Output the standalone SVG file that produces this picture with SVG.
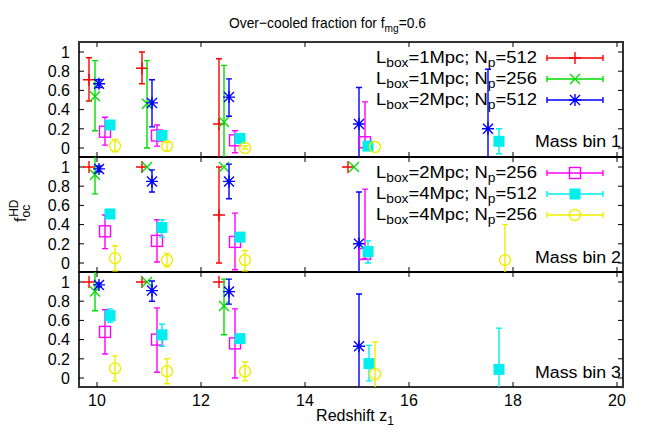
<svg xmlns="http://www.w3.org/2000/svg" width="654" height="436" viewBox="0 0 654 436">
<style>
text{font-family:"Liberation Sans",Arial,sans-serif;font-size:16px;fill:#000}
.sub{font-size:12px}
.ti{font-size:15px}
.ti .sub{font-size:11px}
.ax{fill:none;stroke:#000;stroke-width:1}
.fr{fill:none;stroke:#333;stroke-width:2}
.r{stroke:#f00;fill:none;stroke-width:1.4}
.g{stroke:#0d0;fill:none;stroke-width:1.4}
.b{stroke:#00f;fill:none;stroke-width:1.4}
.m{stroke:#f0f;fill:none;stroke-width:1.4}
.c{stroke:#0ee;fill:none;stroke-width:1.4}
.y{stroke:#ee0;fill:none;stroke-width:1.4}
.tl{text-anchor:end}
.tc{text-anchor:middle}
</style>
<defs>
<path id="pl" d="M-6,0H6M0,-6V6"/>
<path id="cr" d="M-5,-5L5,5M-5,5L5,-5"/>
<path id="st" d="M-6,0H6M0,-6V6M-5,-5L5,5M-5,5L5,-5"/>
<rect id="sq" x="-5.5" y="-5.5" width="11" height="11"/>
<rect id="fs" x="-5.5" y="-5.5" width="11" height="11" fill="#0ee" stroke="none"/>
<circle id="ci" r="5.5"/>
</defs>
<text x="229" y="28" class="ti" textLength="197" lengthAdjust="spacingAndGlyphs">Over−cooled fraction for f<tspan class="sub" dy="4">mg</tspan><tspan dy="-4">=0.6</tspan></text>
<g id="axes">
<rect x="79" y="42" width="544" height="345" class="fr"/>
<path d="M79,157H623M79,272H623" stroke="#000" stroke-width="2"/>
<path class="ax" d="M79,148h5M79,128.8h5M79,109.6h5M79,90.4h5M79,71.2h5M79,52h5M79,263h5M79,243.8h5M79,224.6h5M79,205.4h5M79,186.2h5M79,167h5M79,378h5M79,358.8h5M79,339.6h5M79,320.4h5M79,301.2h5M79,282h5M623,148h-5M623,128.8h-5M623,109.6h-5M623,90.4h-5M623,71.2h-5M623,52h-5M623,263h-5M623,243.8h-5M623,224.6h-5M623,205.4h-5M623,186.2h-5M623,167h-5M623,378h-5M623,358.8h-5M623,339.6h-5M623,320.4h-5M623,301.2h-5M623,282h-5M97,387v-5M201,387v-5M305,387v-5M409,387v-5M513,387v-5M617,387v-5M97,42v5M201,42v5M305,42v5M409,42v5M513,42v5M617,42v5M97,152v10M201,152v10M305,152v10M409,152v10M513,152v10M617,152v10M97,267v10M201,267v10M305,267v10M409,267v10M513,267v10M617,267v10"/>
<g class="tl">
<text x="70" y="154">0</text><text x="70" y="135">0.2</text><text x="70" y="115">0.4</text><text x="70" y="96">0.6</text><text x="70" y="77">0.8</text><text x="70" y="58">1</text>
<text x="70" y="269">0</text><text x="70" y="250">0.2</text><text x="70" y="230">0.4</text><text x="70" y="211">0.6</text><text x="70" y="192">0.8</text><text x="70" y="173">1</text>
<text x="70" y="384">0</text><text x="70" y="365">0.2</text><text x="70" y="345">0.4</text><text x="70" y="326">0.6</text><text x="70" y="307">0.8</text><text x="70" y="288">1</text>
</g>
<g class="tc">
<text x="97" y="406">10</text><text x="201" y="406">12</text><text x="305" y="406">14</text><text x="409" y="406">16</text><text x="513" y="406">18</text><text x="617" y="406">20</text>
</g>
<text x="355" y="421" class="tc" font-size="15">Redshift z<tspan class="sub" dy="4">1</tspan></text>
<text transform="translate(26,222) rotate(-90)" font-size="15">f<tspan class="sub" dy="4" font-size="10">oc</tspan><tspan class="sub" dy="-12" dx="-12" font-size="10">HD</tspan></text>
<text x="621" y="147" class="tl" textLength="86" lengthAdjust="spacingAndGlyphs">Mass bin 1</text>
<text x="621" y="263" class="tl" textLength="86" lengthAdjust="spacingAndGlyphs">Mass bin 2</text>
<text x="621" y="378" class="tl" textLength="86" lengthAdjust="spacingAndGlyphs">Mass bin 3</text>
</g>
<g id="legend">
<text x="376" y="63" textLength="161" lengthAdjust="spacingAndGlyphs">L<tspan class="sub" dy="4">box</tspan><tspan dy="-4">=1Mpc; N</tspan><tspan class="sub" dy="4">p</tspan><tspan dy="-4">=512</tspan></text>
<text x="376" y="84" textLength="161" lengthAdjust="spacingAndGlyphs">L<tspan class="sub" dy="4">box</tspan><tspan dy="-4">=1Mpc; N</tspan><tspan class="sub" dy="4">p</tspan><tspan dy="-4">=256</tspan></text>
<text x="376" y="105" textLength="161" lengthAdjust="spacingAndGlyphs">L<tspan class="sub" dy="4">box</tspan><tspan dy="-4">=2Mpc; N</tspan><tspan class="sub" dy="4">p</tspan><tspan dy="-4">=512</tspan></text>
<text x="376" y="178" textLength="161" lengthAdjust="spacingAndGlyphs">L<tspan class="sub" dy="4">box</tspan><tspan dy="-4">=2Mpc; N</tspan><tspan class="sub" dy="4">p</tspan><tspan dy="-4">=256</tspan></text>
<text x="376" y="199" textLength="161" lengthAdjust="spacingAndGlyphs">L<tspan class="sub" dy="4">box</tspan><tspan dy="-4">=4Mpc; N</tspan><tspan class="sub" dy="4">p</tspan><tspan dy="-4">=512</tspan></text>
<text x="376" y="220" textLength="161" lengthAdjust="spacingAndGlyphs">L<tspan class="sub" dy="4">box</tspan><tspan dy="-4">=4Mpc; N</tspan><tspan class="sub" dy="4">p</tspan><tspan dy="-4">=256</tspan></text>
<path class="r" d="M547,58H603M547,55v6M603,55v6"/><use href="#pl" x="575" y="58" class="r"/>
<path class="g" d="M547,79H603M547,76v6M603,76v6"/><use href="#cr" x="575" y="79" class="g"/>
<path class="b" d="M547,100H603M547,97v6M603,97v6"/><use href="#st" x="575" y="100" class="b"/>
<path class="m" d="M547,173H603M547,170v6M603,170v6"/><use href="#sq" x="575" y="173" class="m"/>
<path class="c" d="M547,194H603M547,191v6M603,191v6"/><use href="#fs" x="575" y="194"/>
<path class="y" d="M547,215H603M547,212v6M603,212v6"/><use href="#ci" x="575" y="215" class="y"/>
</g>
<g id="connectors">
<path class="r" d="M89,101V57.8M86,101h6M86,57.8h6M142,83.7V52M139,83.7h6M139,52h6M219,157V58.7M216,58.7h6M219,263V167M216,263h6M216,167h6"/>
<g class="r"><use href="#pl" x="89" y="79.8"/><use href="#pl" x="142" y="68.3"/><use href="#pl" x="219" y="124"/>
<use href="#pl" x="89" y="167"/><use href="#pl" x="142" y="167"/><use href="#pl" x="219" y="215"/><use href="#pl" x="348" y="167"/>
<use href="#pl" x="89" y="282"/><use href="#pl" x="142" y="282"/><use href="#pl" x="219" y="282"/></g>
<path class="g" d="M95,130.7V60.6M92,130.7h6M92,60.6h6M147,148V60.6M144,148h6M144,60.6h6M224,157V65.4M221,65.4h6M95,193.9V157M92,193.9h6M95,310.8V272M92,310.8h6M224,334.8V279.1M221,334.8h6M221,279.1h6"/>
<g class="g"><use href="#cr" x="95" y="96.2"/><use href="#cr" x="147" y="103.8"/><use href="#cr" x="224" y="122"/>
<use href="#cr" x="95" y="174.7"/><use href="#cr" x="147" y="167"/><use href="#cr" x="224" y="167"/><use href="#cr" x="354" y="167"/>
<use href="#cr" x="95" y="291.6"/><use href="#cr" x="147" y="282"/><use href="#cr" x="224" y="306"/></g>
<path class="b" d="M99,87.5V79.8M96,87.5h6M96,79.8h6M152,126.9V79.8M149,126.9h6M149,79.8h6M229,116.3V78.9M226,116.3h6M226,78.9h6M359,157V87.5M356,87.5h6M488,157V69.3M485,69.3h6M99,171.8V166M96,171.8h6M96,166h6M152,192V169.9M149,192h6M149,169.9h6M229,198.7V164.1M226,198.7h6M226,164.1h6M359,272V192M356,192h6M99,286.8V283M96,286.8h6M96,283h6M152,301.2V281M149,301.2h6M149,281h6M229,304.1V279.1M226,304.1h6M226,279.1h6M359,387V294M356,294h6"/>
<g class="b"><use href="#st" x="99" y="83.7"/><use href="#st" x="152" y="102.9"/><use href="#st" x="229" y="97.1"/><use href="#st" x="359" y="124"/><use href="#st" x="488" y="128.8"/>
<use href="#st" x="99" y="168.9"/><use href="#st" x="152" y="181.4"/><use href="#st" x="229" y="181.4"/><use href="#st" x="359" y="243.8"/>
<use href="#st" x="99" y="284.9"/><use href="#st" x="152" y="290.6"/><use href="#st" x="229" y="291.6"/><use href="#st" x="359" y="346.3"/></g>
<path class="m" d="M105,145.1V117.3M102,145.1h6M102,117.3h6M157,146.1V125M154,146.1h6M154,125h6M235,152.8V130.7M232,152.8h6M232,130.7h6M365,148V101.9M362,148h6M362,101.9h6M105,248.6V215M102,248.6h6M102,215h6M157,262V219.8M154,262h6M154,219.8h6M235,269.7V213.1M232,269.7h6M232,213.1h6M365,258.7V189.1M362,258.7h6M362,189.1h6M105,354V309.8M102,354h6M102,309.8h6M157,372.2V307.9M154,372.2h6M154,307.9h6M235,378V308.9M232,378h6M232,308.9h6"/>
<g class="m"><use href="#sq" x="105" y="131.7"/><use href="#sq" x="157" y="135.5"/><use href="#sq" x="235" y="140.3"/><use href="#sq" x="365" y="142.2"/>
<use href="#sq" x="105" y="231.3"/><use href="#sq" x="157" y="240.9"/><use href="#sq" x="235" y="241.9"/><use href="#sq" x="365" y="254"/>
<use href="#sq" x="105" y="331.9"/><use href="#sq" x="157" y="339.6"/><use href="#sq" x="235" y="343.4"/></g>
<path class="c" d="M499,153.8V128.8M496,153.8h6M496,128.8h6M162,237.1V219.8M159,237.1h6M159,219.8h6M368,263V240.9M365,263h6M365,240.9h6M110,322.3V308.9M107,322.3h6M107,308.9h6M162,346.3V324.2M159,346.3h6M159,324.2h6M369,380.9V345.4M366,380.9h6M366,345.4h6M499,387V328.1M496,328.1h6"/>
<use href="#fs" x="110" y="125"/><use href="#fs" x="162" y="135.5"/><use href="#fs" x="240" y="138.4"/><use href="#fs" x="368" y="146.1"/><use href="#fs" x="499" y="141.3"/>
<use href="#fs" x="110" y="214"/><use href="#fs" x="162" y="227.5"/><use href="#fs" x="240" y="237.1"/><use href="#fs" x="368" y="251.5"/>
<use href="#fs" x="110" y="315.6"/><use href="#fs" x="162" y="334.8"/><use href="#fs" x="240" y="338.6"/><use href="#fs" x="369" y="363.6"/><use href="#fs" x="499" y="369.4"/>
<path class="y" d="M115,151.8V139.4M112,151.8h6M112,139.4h6M167,150.9V142.2M164,150.9h6M164,142.2h6M245,149V146M242,149h6M242,146h6M115,270.7V245.7M112,270.7h6M112,245.7h6M167,266.8V253.4M164,266.8h6M164,253.4h6M245,270.7V250.5M242,270.7h6M242,250.5h6M505,272V224.6M502,224.6h6M115,380.9V355.9M112,380.9h6M112,355.9h6M167,383.8V358.8M164,383.8h6M164,358.8h6M245,380.9V361.7M242,380.9h6M242,361.7h6M375,387V342M372,342h6"/>
<g class="y"><use href="#ci" x="115" y="146.1"/><use href="#ci" x="167" y="146.1"/><use href="#ci" x="245" y="148"/><use href="#ci" x="375" y="147"/>
<use href="#ci" x="115" y="258.2"/><use href="#ci" x="167" y="260.1"/><use href="#ci" x="245" y="260.1"/><use href="#ci" x="505" y="260.1"/>
<use href="#ci" x="115" y="368.4"/><use href="#ci" x="167" y="371.3"/><use href="#ci" x="245" y="371.3"/><use href="#ci" x="375" y="374.2"/></g>
</g>
</svg>
